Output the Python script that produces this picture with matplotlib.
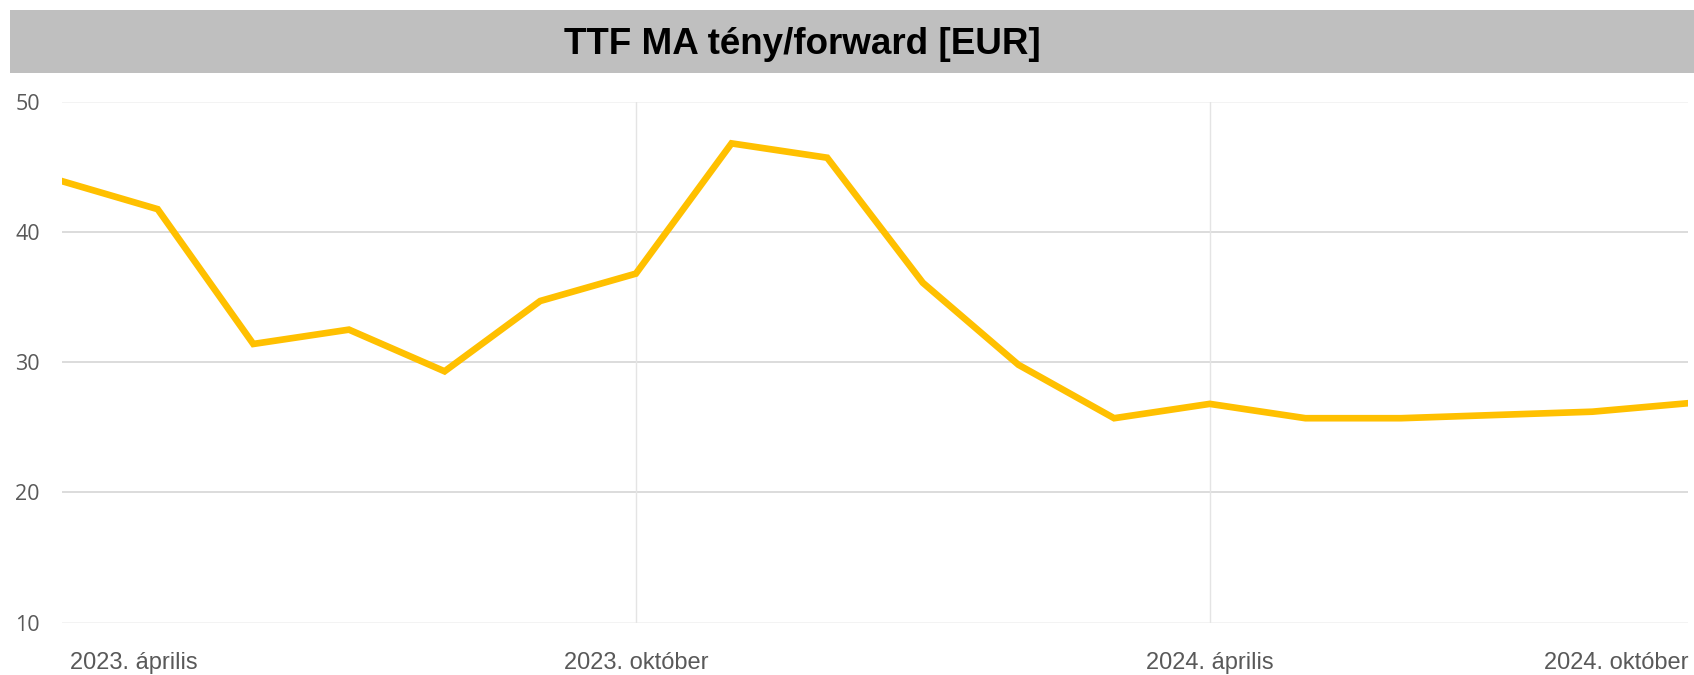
import matplotlib
matplotlib.use('Agg')
import matplotlib.pyplot as plt
import matplotlib.transforms as mtransforms
from matplotlib.patches import Rectangle

# ─────────────────────────────────────────
# Data (monthly, 2023 April → 2024 September)
# ─────────────────────────────────────────
months = ['2023-04', '2023-05', '2023-06', '2023-07', '2023-08', '2023-09',
          '2023-10', '2023-11', '2023-12', '2024-01', '2024-02', '2024-03',
          '2024-04', '2024-05', '2024-06', '2024-07', '2024-08', '2024-09']
ttf_values = [43.9, 41.75, 31.4, 32.5, 29.3, 34.7,
              36.8, 46.8, 45.7, 36.1, 29.8, 25.7,
              26.8, 25.7, 25.7, 25.95, 26.2, 26.85]

tick_idx    = [0, 6, 12, 17]
tick_labels = ['2023. április', '2023. október', '2024. április', '2024. október']
y_ticks     = [10, 20, 30, 40, 50]

TITLE      = 'TTF MA tény/forward [EUR]'
LINE_COLOR = '#FFC000'
TEXT_COLOR = '#595959'

W, H = 1694, 675
fig = plt.figure(figsize=(W / 100, H / 100), dpi=100)

# grey title band
fig.patches.append(Rectangle((10 / W, 1 - 73 / H), 1 - 10 / W, 63 / H,
                             transform=fig.transFigure, facecolor='#BFBFBF',
                             edgecolor='none', zorder=0))
fig.text(802 / W, 1 - 45 / H, TITLE, ha='center', va='center',
         fontsize=26.5, fontweight='bold', family=['Liberation Sans', 'DejaVu Sans'])

ax = fig.add_axes([62 / W, 1 - 622.7 / H, (1688 - 62) / W, (622.7 - 101.7) / H])
x = list(range(len(months)))
ax.plot(x, ttf_values, color=LINE_COLOR, linewidth=4.8, solid_joinstyle='miter', zorder=3)

ax.set_xlim(0, len(months) - 1)
ax.set_ylim(10, 50)

# gridlines
for v in y_ticks:
    c = '#F2F2F2' if v in (10, 50) else '#D9D9D9'
    ax.axhline(v, color=c, linewidth=1.3, zorder=1)
for i in (6, 12):
    ax.axvline(i, color='#E4E4E4', linewidth=1.0, zorder=1)

for s in ax.spines.values():
    s.set_visible(False)

ax.set_yticks(y_ticks)
ax.set_yticklabels([str(v) for v in y_ticks], family=['Open Sans', 'DejaVu Sans'],
                   fontsize=15.5, color=TEXT_COLOR)
ax.tick_params(axis='y', length=0, pad=16)

ax.set_xticks(tick_idx)
ax.set_xticklabels(tick_labels, family=['Liberation Sans', 'DejaVu Sans'],
                   fontsize=17, color=TEXT_COLOR)
ax.tick_params(axis='x', length=0, pad=21)
xl = ax.get_xticklabels()
xl[0].set_ha('left')
xl[0].set_transform(xl[0].get_transform() +
                    mtransforms.ScaledTranslation(8 / 100, 0, fig.dpi_scale_trans))
xl[-1].set_ha('right')

plt.savefig('out.png', dpi=100)
plt.close()
